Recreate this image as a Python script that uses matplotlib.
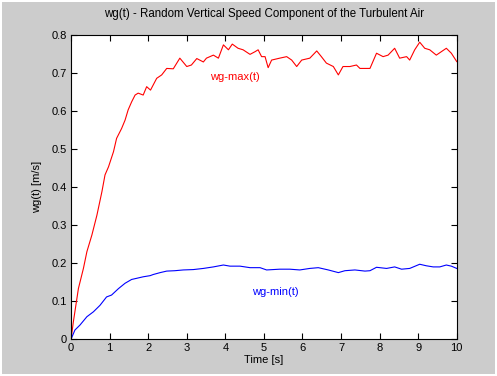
"""wg(t) - random vertical speed component of the turbulent air (MATLAB-style figure)."""
import matplotlib

matplotlib.use("Agg")
import matplotlib.pyplot as plt

# values
t_max = [0.0, 0.06, 0.19, 0.32, 0.41, 0.54, 0.67, 0.80, 0.88, 0.97, 1.10, 1.18, 1.31,
         1.40, 1.48, 1.57, 1.66, 1.74, 1.87, 1.96, 2.06, 2.22, 2.35, 2.48, 2.65, 2.82,
         3.00, 3.12, 3.26, 3.43, 3.51, 3.69, 3.82, 3.95, 4.08, 4.18, 4.33, 4.46, 4.64,
         4.77, 4.85, 4.94, 5.03, 5.11, 5.20, 5.41, 5.59, 5.72, 5.85, 5.98, 6.19, 6.37,
         6.49, 6.62, 6.80, 6.93, 7.05, 7.23, 7.40, 7.49, 7.75, 7.92, 8.09, 8.22, 8.39,
         8.52, 8.70, 8.78, 8.91, 9.04, 9.17, 9.30, 9.47, 9.60, 9.73, 9.86, 10.0]
wg_max = [0.0, 0.046, 0.133, 0.186, 0.230, 0.274, 0.326, 0.388, 0.432, 0.453, 0.493,
          0.528, 0.554, 0.576, 0.603, 0.624, 0.642, 0.647, 0.642, 0.664, 0.655, 0.686,
          0.695, 0.712, 0.711, 0.739, 0.717, 0.721, 0.738, 0.729, 0.739, 0.747, 0.739,
          0.774, 0.761, 0.776, 0.765, 0.761, 0.749, 0.756, 0.761, 0.743, 0.743, 0.714,
          0.734, 0.739, 0.743, 0.734, 0.717, 0.734, 0.739, 0.758, 0.743, 0.726, 0.717,
          0.695, 0.717, 0.717, 0.721, 0.712, 0.712, 0.752, 0.743, 0.747, 0.765, 0.739,
          0.743, 0.734, 0.761, 0.781, 0.765, 0.761, 0.747, 0.756, 0.765, 0.752, 0.730]

t_min = [0.0, 0.10, 0.23, 0.41, 0.58, 0.75, 0.92, 1.05, 1.23, 1.40, 1.57, 1.70, 1.87,
         2.05, 2.13, 2.31, 2.48, 2.69, 2.91, 3.17, 3.43, 3.69, 3.95, 4.12, 4.38, 4.64,
         4.90, 5.07, 5.41, 5.67, 5.93, 6.19, 6.41, 6.67, 6.93, 7.10, 7.36, 7.62, 7.75,
         7.92, 8.18, 8.39, 8.57, 8.78, 9.04, 9.21, 9.39, 9.56, 9.73, 9.86, 10.0]
wg_min = [0.0, 0.024, 0.037, 0.059, 0.072, 0.089, 0.111, 0.116, 0.133, 0.147, 0.157,
          0.160, 0.164, 0.167, 0.170, 0.175, 0.179, 0.180, 0.182, 0.183, 0.186, 0.190,
          0.195, 0.192, 0.192, 0.188, 0.188, 0.182, 0.184, 0.184, 0.182, 0.186, 0.188,
          0.182, 0.175, 0.180, 0.182, 0.179, 0.180, 0.189, 0.186, 0.190, 0.184, 0.186,
          0.197, 0.193, 0.190, 0.190, 0.195, 0.192, 0.186]

x_ticks = list(range(0, 11))
y_ticks = [0, 0.1, 0.2, 0.3, 0.4, 0.5, 0.6, 0.7, 0.8]

plt.rcParams["font.family"] = ["Liberation Sans", "DejaVu Sans"]
plt.rcParams["font.size"] = 8

fig = plt.figure(figsize=(4.97, 3.76), dpi=100, facecolor="#cccccc")
# thin white frame around the window, as in the screenshot
fig.patch.set_edgecolor("white")
fig.patch.set_linewidth(1.5)

ax = fig.add_axes([0.143, 0.098, 0.776, 0.809])
ax.set_facecolor("white")

ax.plot(t_max, wg_max, color="red", linewidth=0.8)
ax.plot(t_min, wg_min, color="blue", linewidth=0.8)

ax.text(3.6, 0.69, "wg-max(t)", color="red", fontsize=8, va="center")
ax.text(4.7, 0.124, "wg-min(t)", color="blue", fontsize=8, va="center")

ax.set_xlim(0, 10)
ax.set_ylim(0, 0.8)
ax.set_xticks(x_ticks)
ax.set_yticks(y_ticks)
ax.set_xticklabels([str(v) for v in x_ticks])
ax.set_yticklabels([f"{v:g}" for v in y_ticks])
ax.tick_params(direction="in", length=4, width=0.8, top=True, right=True, pad=3,
               colors="black")
for spine in ax.spines.values():
    spine.set_linewidth(0.8)

ax.set_title("wg(t) - Random Vertical Speed Component of the Turbulent Air",
             fontsize=8.3, pad=13)
ax.set_xlabel("Time [s]", labelpad=1)
ax.set_ylabel("wg(t) [m/s]", labelpad=7)

fig.savefig("out.png", dpi=100, facecolor=fig.get_facecolor(),
            edgecolor=fig.patch.get_edgecolor())
